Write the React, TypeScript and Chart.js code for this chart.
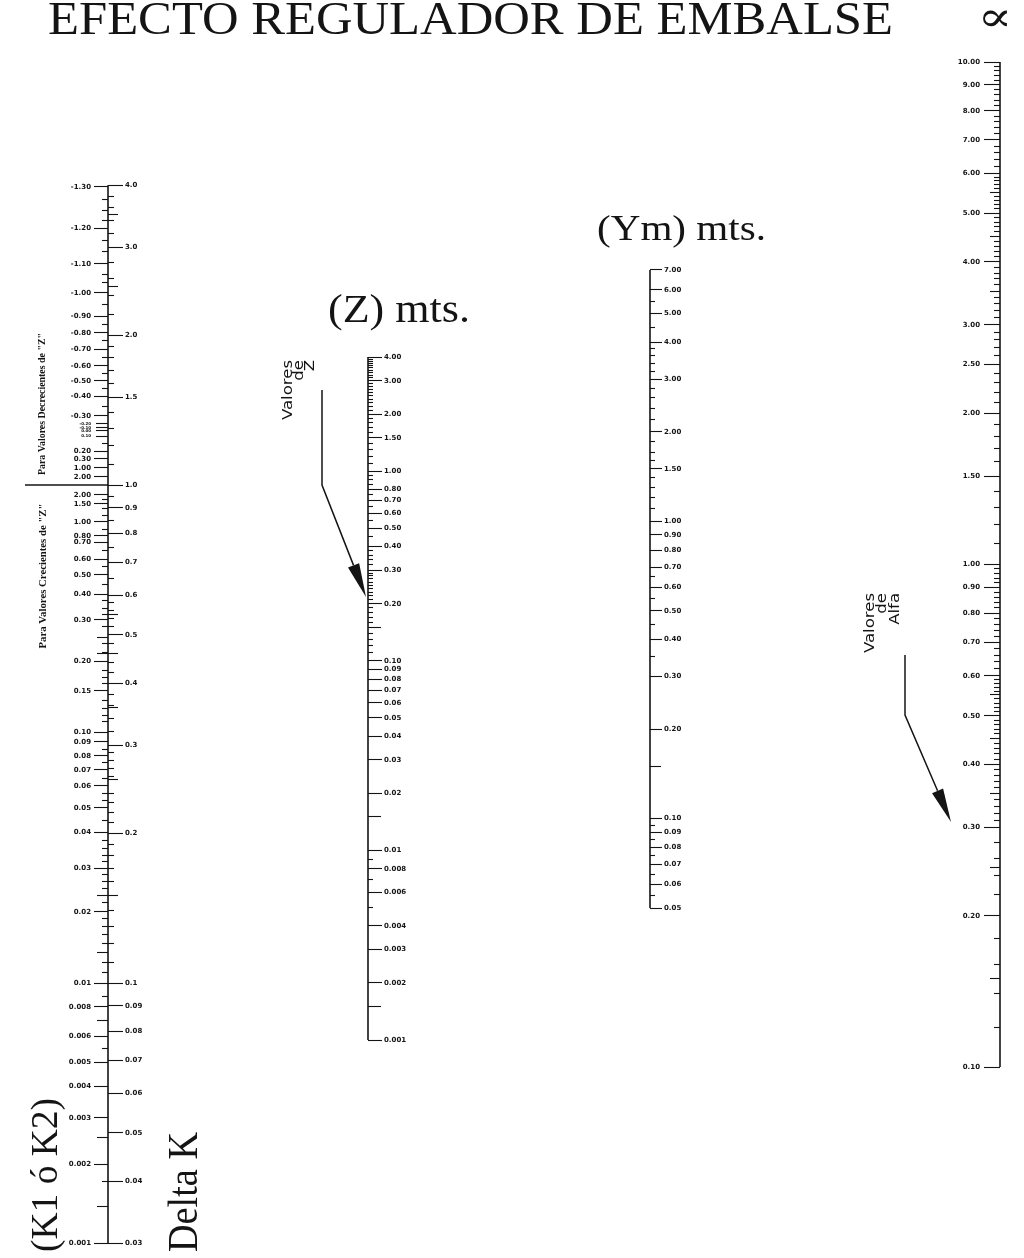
import React, { useEffect, useRef } from 'react';
import { Chart, registerables, LogarithmicScale } from 'chart.js';

// ---------------- data ----------------
// Delta K scale (right side of the left axis)
const deltaKValues = [4, 3, 2, 1.5, 1, 0.9, 0.8, 0.7, 0.6, 0.5, 0.4, 0.3, 0.2, 0.1, 0.09, 0.08, 0.07, 0.06, 0.05, 0.04, 0.03];
const deltaKLabels = ['4.0', '3.0', '2.0', '1.5', '1.0', '0.9', '0.8', '0.7', '0.6', '0.5', '0.4', '0.3', '0.2', '0.1', '0.09', '0.08', '0.07', '0.06', '0.05', '0.04', '0.03'];
const deltaKMinor = [3.8, 3.6, 3.4, 3.2, 2.8, 2.6, 2.4, 2.2, 1.9, 1.8, 1.7, 1.6, 1.4, 1.3, 1.2, 1.1, 0.95, 0.85, 0.75, 0.65, 0.58, 0.56, 0.54, 0.52, 0.48, 0.44, 0.42, 0.38, 0.36, 0.34, 0.32, 0.29, 0.28, 0.27, 0.26, 0.24, 0.23, 0.22, 0.21, 0.19, 0.18, 0.17, 0.16, 0.14, 0.13, 0.12, 0.11];
const deltaKMinorLong = [3.5, 2.5, 0.55, 0.458, 0.357, 0.256, 0.15];

// K1 / K2 scale (left side of the left axis), positions read against Delta K
const k1Labels = ['-1.30', '-1.20', '-1.10', '-1.00', '-0.90', '-0.80', '-0.70', '-0.60', '-0.50', '-0.40', '-0.30', '0.20', '0.30', '1.00', '2.00', '2.00', '1.50', '1.00', '0.80', '0.70', '0.60', '0.50', '0.40', '0.30', '0.20', '0.15', '0.10', '0.09', '0.08', '0.07', '0.06', '0.05', '0.04', '0.03', '0.02', '0.01', '0.008', '0.006', '0.005', '0.004', '0.003', '0.002', '0.001'];
const k1OnDeltaK = [3.97, 3.28, 2.78, 2.43, 2.18, 2.02, 1.875, 1.734, 1.618, 1.509, 1.376, 1.17, 1.128, 1.082, 1.038, 0.955, 0.916, 0.843, 0.79, 0.768, 0.71, 0.66, 0.604, 0.536, 0.443, 0.386, 0.319, 0.305, 0.286, 0.268, 0.249, 0.2246, 0.201, 0.17, 0.139, 0.1, 0.0895, 0.0782, 0.0694, 0.0621, 0.0536, 0.0433, 0.03];
const k1TinyLabels = ['-0.20', '-0.10', '0.00', '0.10'];
const k1TinyOnDeltaK = [1.326, 1.302, 1.284, 1.254];
const k1Minor = [3.75, 3.55, 3.4, 3.1, 2.95, 2.65, 2.55, 2.3, 2.1, 1.95, 1.8, 1.675, 1.56, 1.44, 1.21, 0.935, 0.895, 0.87, 0.815, 0.74, 0.685, 0.63, 0.585, 0.565, 0.55, 0.52, 0.48, 0.46, 0.425, 0.41, 0.4, 0.37, 0.355, 0.345, 0.335, 0.295, 0.277, 0.258, 0.24, 0.232, 0.212, 0.193, 0.186, 0.18, 0.175, 0.165, 0.16, 0.155, 0.145, 0.135, 0.13, 0.125, 0.12, 0.11, 0.105, 0.094, 0.074, 0.04];
const k1MinorLong = [0.495, 0.458, 0.15, 0.115, 0.084, 0.049, 0.0356];

// Z scale
const zValues = [4, 3, 2, 1.5, 1, 0.8, 0.7, 0.6, 0.5, 0.4, 0.3, 0.2, 0.1, 0.09, 0.08, 0.07, 0.06, 0.05, 0.04, 0.03, 0.02, 0.01, 0.008, 0.006, 0.004, 0.003, 0.002, 0.001];
const zLabels = ['4.00', '3.00', '2.00', '1.50', '1.00', '0.80', '0.70', '0.60', '0.50', '0.40', '0.30', '0.20', '0.10', '0.09', '0.08', '0.07', '0.06', '0.05', '0.04', '0.03', '0.02', '0.01', '0.008', '0.006', '0.004', '0.003', '0.002', '0.001'];
const zMinor = [3.9, 3.8, 3.7, 3.6, 3.5, 3.4, 3.3, 3.2, 3.1, 2.9, 2.8, 2.7, 2.6, 2.5, 2.4, 2.3, 2.2, 2.1, 1.9, 1.8, 1.7, 1.6, 1.4, 1.3, 1.2, 1.1, 0.95, 0.9, 0.85, 0.75, 0.65, 0.55, 0.45, 0.38, 0.36, 0.34, 0.32, 0.29, 0.28, 0.27, 0.26, 0.25, 0.24, 0.23, 0.22, 0.21, 0.19, 0.18, 0.17, 0.16, 0.14, 0.13, 0.12, 0.11, 0.009, 0.007, 0.005];
const zMinorLong = [0.15, 0.015, 0.0015];

// Ym scale
const ymValues = [7, 6, 5, 4, 3, 2, 1.5, 1, 0.9, 0.8, 0.7, 0.6, 0.5, 0.4, 0.3, 0.2, 0.1, 0.09, 0.08, 0.07, 0.06, 0.05];
const ymLabels = ['7.00', '6.00', '5.00', '4.00', '3.00', '2.00', '1.50', '1.00', '0.90', '0.80', '0.70', '0.60', '0.50', '0.40', '0.30', '0.20', '0.10', '0.09', '0.08', '0.07', '0.06', '0.05'];
const ymMinor = [5.5, 4.5, 3.8, 3.6, 3.4, 3.2, 2.8, 2.6, 2.4, 2.2, 1.85, 1.7, 1.6, 1.4, 1.3, 1.2, 1.1, 0.65, 0.55, 0.45, 0.35, 0.095, 0.085, 0.075, 0.065, 0.055];
const ymMinorLong = [0.15];

// Alfa scale
const alfaValues = [10, 9, 8, 7, 6, 5, 4, 3, 2.5, 2, 1.5, 1, 0.9, 0.8, 0.7, 0.6, 0.5, 0.4, 0.3, 0.2, 0.1];
const alfaLabels = ['10.00', '9.00', '8.00', '7.00', '6.00', '5.00', '4.00', '3.00', '2.50', '2.00', '1.50', '1.00', '0.90', '0.80', '0.70', '0.60', '0.50', '0.40', '0.30', '0.20', '0.10'];
const alfaMinor = [9.8, 9.6, 9.4, 9.2, 8.8, 8.6, 8.4, 8.2, 7.8, 7.6, 7.4, 7.2, 6.8, 6.6, 6.4, 6.2, 5.9, 5.8, 5.7, 5.6, 5.4, 5.3, 5.2, 5.1, 4.9, 4.8, 4.7, 4.6, 4.4, 4.3, 4.2, 4.1, 3.9, 3.8, 3.7, 3.6, 3.4, 3.3, 3.2, 3.1, 2.9, 2.8, 2.7, 2.6, 2.4, 2.3, 2.2, 2.1, 1.9, 1.8, 1.7, 1.6, 1.4, 1.3, 1.2, 1.1, 0.98, 0.96, 0.94, 0.92, 0.88, 0.86, 0.84, 0.82, 0.78, 0.76, 0.74, 0.72, 0.68, 0.66, 0.64, 0.62, 0.59, 0.58, 0.57, 0.56, 0.54, 0.53, 0.52, 0.51, 0.49, 0.48, 0.47, 0.46, 0.44, 0.43, 0.42, 0.41, 0.39, 0.38, 0.37, 0.36, 0.34, 0.33, 0.32, 0.31, 0.28, 0.26, 0.24, 0.22, 0.18, 0.16, 0.14, 0.12];
const alfaMinorLong = [5.5, 4.5, 3.5, 0.55, 0.45, 0.35, 0.25, 0.15];

// Texts
const TITLE = 'EFECTO REGULADOR DE EMBALSE';
const ALPHA_SYMBOL = '\u221D';
const Z_TITLE = '(Z) mts.';
const YM_TITLE = '(Ym) mts.';
const K_TITLE = '(K1 ó K2)';
const DK_TITLE = 'Delta K';
const DECR_NOTE = 'Para Valores Decrecientes de "Z"';
const CREC_NOTE = 'Para Valores Crecientes de "Z"';
const Z_HINT = ['Valores', 'de', 'Z'];
const ALFA_HINT = ['Valores', 'de', 'Alfa'];

// ---------------- layout ----------------
const W = 1024;
const H = 1258;
const PAD_TOP = 20;
const PAD_BOTTOM = 8;
const AREA_TOP = PAD_TOP;
const AREA_BOTTOM = H - PAD_BOTTOM;
const INK = '#141414';
const AXIS_X = { k: 108, z: 368, ym: 650, alfa: 1000 };
const DIVIDER_X0 = 25;
// two reference points (value, pixel y) for each log axis
const ANCHOR: Record<string, [[number, number], [number, number]]> = {
  k: [[1, 485], [0.1, 983]],
  z: [[4, 357], [0.001, 1040]],
  ym: [[7, 270], [0.05, 908]],
  alfa: [[10, 62], [0.1, 1067]],
};

function logRange(key: string) {
  const [[v1, y1], [v2, y2]] = ANCHOR[key];
  const d = (Math.log10(v1) - Math.log10(v2)) / (y2 - y1);
  return {
    max: Math.pow(10, Math.log10(v1) + (y1 - AREA_TOP) * d),
    min: Math.pow(10, Math.log10(v2) - (AREA_BOTTOM - y2) * d),
  };
}

type Tk = { value: number; lbl: string; len: number; fs: number };
const majorTicks = (vals: number[], labels: string[], len: number, fs = 7): Tk[] =>
  vals.map((v, i) => ({ value: v, lbl: labels[i], len, fs }));
const minorTicks = (vals: number[], len: number): Tk[] => vals.map((v) => ({ value: v, lbl: '', len, fs: 7 }));
const sorted = (arr: Tk[]) => arr.slice().sort((a, b) => a.value - b.value);

const TICKS: Record<string, Tk[]> = {
  k1: sorted([
    ...majorTicks(k1OnDeltaK, k1Labels, 14),
    ...majorTicks(k1TinyOnDeltaK, k1TinyLabels, 12, 4),
    ...minorTicks(k1Minor, 6),
    ...minorTicks(k1MinorLong, 11),
  ]),
  dk: sorted([
    ...majorTicks(deltaKValues, deltaKLabels, 15),
    ...minorTicks(deltaKMinor, 6),
    ...minorTicks(deltaKMinorLong, 10),
  ]),
  z: sorted([...majorTicks(zValues, zLabels, 14), ...minorTicks(zMinor, 5), ...minorTicks(zMinorLong, 13)]),
  ym: sorted([...majorTicks(ymValues, ymLabels, 12), ...minorTicks(ymMinor, 5), ...minorTicks(ymMinorLong, 11)]),
  alfa: sorted([...majorTicks(alfaValues, alfaLabels, 16), ...minorTicks(alfaMinor, 6), ...minorTicks(alfaMinorLong, 10)]),
};

const SIDES: Record<string, { x: number; dir: number; gap: number }> = {
  k1: { x: AXIS_X.k, dir: -1, gap: 3 },
  dk: { x: AXIS_X.k, dir: 1, gap: 2 },
  z: { x: AXIS_X.z, dir: 1, gap: 2 },
  ym: { x: AXIS_X.ym, dir: 1, gap: 2 },
  alfa: { x: AXIS_X.alfa, dir: -1, gap: 4 },
};

// Log scale whose ticks/labels can sit on either side of a free-standing axis
class NomoScale extends LogarithmicScale {
  static id = 'nomolog';
  static defaults = (LogarithmicScale as any).defaults;
  _side() {
    const s = SIDES[(this as any).id];
    const bx = (this as any).chart.scales.x.getPixelForValue(s.x);
    return { bx, dir: s.dir, gap: s.gap };
  }
  _computeGridLineItems(area: any) {
    const items = (super._computeGridLineItems as any)(area);
    const { bx, dir } = this._side();
    const ticks = (this as any).ticks;
    items.forEach((it: any, i: number) => {
      const t = ticks[i];
      const len = t && t.len ? t.len : 6;
      it.tx1 = bx;
      it.tx2 = bx + dir * len;
    });
    return items;
  }
  _computeLabelItems(area: any) {
    const items = (super._computeLabelItems as any)(area);
    const { bx, dir, gap } = this._side();
    const ticks = (this as any).ticks as Tk[];
    let maxLen = 0;
    ticks.forEach((t) => {
      if (t.lbl && t.len > maxLen) maxLen = t.len;
    });
    items.forEach((it: any) => {
      if (it.options && Array.isArray(it.options.translation)) {
        it.options.translation[0] = bx + dir * (maxLen + gap);
      }
      if (it.options) it.options.textAlign = dir > 0 ? 'left' : 'right';
    });
    return items;
  }
}

Chart.register(...registerables, NomoScale);

function nomoAxis(id: string, key: string) {
  const r = logRange(key);
  return {
    type: 'nomolog',
    axis: 'y',
    position: { x: SIDES[id].x },
    min: r.min,
    max: r.max,
    bounds: 'data',
    border: { display: false },
    grid: {
      display: true,
      drawOnChartArea: false,
      drawTicks: true,
      tickLength: 14,
      tickColor: INK,
      tickWidth: 1.1,
    },
    ticks: {
      autoSkip: false,
      color: INK,
      maxRotation: 0,
      minRotation: 0,
      font: (ctx: any) => ({ family: 'DejaVu Sans', size: ctx.tick && ctx.tick.fs ? ctx.tick.fs : 7, weight: 'bold' }),
      callback: (_v: number, i: number, ts: any[]) => (ts[i] && ts[i].lbl) || '',
    },
    afterBuildTicks: (scale: any) => {
      scale.ticks = TICKS[id].map((t) => ({ ...t }));
    },
  };
}

function spine(key: keyof typeof AXIS_X, yAxisID: string, vals: number[]) {
  return {
    data: [
      { x: AXIS_X[key], y: Math.max(...vals) },
      { x: AXIS_X[key], y: Math.min(...vals) },
    ],
    yAxisID,
    xAxisID: 'x',
    showLine: true,
    borderColor: INK,
    borderWidth: 1.6,
    pointRadius: 0,
    clip: false,
  };
}

// ---------------- annotations ----------------
type TextItem = {
  text: string;
  x: number;
  y: number;
  font: string;
  align?: CanvasTextAlign;
  rot?: boolean;
  width?: number;
  sx?: number;
};
const SERIF = '"Liberation Serif", "Times New Roman", serif';
const TEXTS: TextItem[] = [
  { text: TITLE, x: 48, y: 34, font: `46px ${SERIF}`, width: 845 },
  { text: ALPHA_SYMBOL, x: 995, y: 31, font: '42px "DejaVu Serif"', align: 'center', width: 35 },
  { text: Z_TITLE, x: 328, y: 322, font: `40px ${SERIF}`, width: 142 },
  { text: YM_TITLE, x: 597, y: 240, font: `36px ${SERIF}`, width: 169 },
  { text: K_TITLE, x: 57, y: 1252, font: `38px ${SERIF}`, rot: true, width: 154 },
  { text: DK_TITLE, x: 197, y: 1252, font: `42px ${SERIF}`, rot: true, width: 120 },
  { text: DECR_NOTE, x: 45, y: 404, font: `bold 11px ${SERIF}`, rot: true, align: 'center', width: 142 },
  { text: CREC_NOTE, x: 46, y: 576, font: `bold 11px ${SERIF}`, rot: true, align: 'center', width: 145 },
  { text: Z_HINT[0], x: 292, y: 360, font: '14px "DejaVu Sans"', rot: true, align: 'right', sx: 1.18 },
  { text: Z_HINT[1], x: 303, y: 360, font: '14px "DejaVu Sans"', rot: true, align: 'right', sx: 1.18 },
  { text: Z_HINT[2], x: 314, y: 360, font: '14px "DejaVu Sans"', rot: true, align: 'right', sx: 1.18 },
  { text: ALFA_HINT[0], x: 874, y: 593, font: '14px "DejaVu Sans"', rot: true, align: 'right', sx: 1.18 },
  { text: ALFA_HINT[1], x: 886, y: 593, font: '14px "DejaVu Sans"', rot: true, align: 'right', sx: 1.18 },
  { text: ALFA_HINT[2], x: 899, y: 593, font: '14px "DejaVu Sans"', rot: true, align: 'right', sx: 1.18 },
];
const ARROWS: { pts: [number, number][]; head: number; hw: number }[] = [
  { pts: [[322, 390], [322, 485], [366, 597]], head: 34, hw: 6 },
  { pts: [[905, 655], [905, 715], [951, 822]], head: 34, hw: 6 },
];

function drawText(ctx: CanvasRenderingContext2D, t: TextItem) {
  ctx.save();
  ctx.translate(t.x, t.y);
  if (t.rot) ctx.rotate(-Math.PI / 2);
  ctx.font = t.font;
  ctx.textAlign = t.align || 'left';
  ctx.textBaseline = 'alphabetic';
  let sx = t.sx || 1;
  if (t.width) {
    const m = ctx.measureText(t.text).width;
    if (m > 0) sx = t.width / m;
  }
  ctx.scale(sx, 1);
  ctx.fillText(t.text, 0, 0);
  ctx.restore();
}

function drawArrow(ctx: CanvasRenderingContext2D, a: { pts: [number, number][]; head: number; hw: number }) {
  const pts = a.pts;
  const [tx, ty] = pts[pts.length - 1];
  const [px, py] = pts[pts.length - 2];
  const dx = tx - px;
  const dy = ty - py;
  const L = Math.hypot(dx, dy);
  const ux = dx / L;
  const uy = dy / L;
  const bx = tx - ux * a.head;
  const by = ty - uy * a.head;
  ctx.beginPath();
  ctx.moveTo(pts[0][0], pts[0][1]);
  for (let i = 1; i < pts.length - 1; i++) ctx.lineTo(pts[i][0], pts[i][1]);
  ctx.lineTo(bx, by);
  ctx.lineWidth = 1.5;
  ctx.strokeStyle = INK;
  ctx.stroke();
  ctx.beginPath();
  ctx.moveTo(tx, ty);
  ctx.lineTo(bx - uy * a.hw, by + ux * a.hw);
  ctx.lineTo(bx + uy * a.hw, by - ux * a.hw);
  ctx.closePath();
  ctx.fillStyle = INK;
  ctx.fill();
}

const annotationPlugin = {
  id: 'nomoAnnotations',
  afterDraw(chart: any) {
    const ctx: CanvasRenderingContext2D = chart.ctx;
    ctx.save();
    ctx.fillStyle = INK;
    TEXTS.forEach((t) => drawText(ctx, t));
    ARROWS.forEach((a) => drawArrow(ctx, a));
    ctx.restore();
  },
};

export default function App() {
  const canvasRef = useRef<HTMLCanvasElement | null>(null);

  useEffect(() => {
    const canvas = canvasRef.current;
    if (!canvas) return;
    const chart = new Chart(canvas, {
      type: 'scatter',
      data: {
        datasets: [
          spine('k', 'dk', deltaKValues),
          spine('z', 'z', zValues),
          spine('ym', 'ym', ymValues),
          spine('alfa', 'alfa', alfaValues),
          {
            data: [
              { x: DIVIDER_X0, y: deltaKValues[4] },
              { x: AXIS_X.k, y: deltaKValues[4] },
            ],
            yAxisID: 'dk',
            xAxisID: 'x',
            showLine: true,
            borderColor: INK,
            borderWidth: 1.3,
            pointRadius: 0,
            clip: false,
          },
        ] as any,
      },
      options: {
        responsive: false,
        maintainAspectRatio: false,
        animation: false,
        events: [],
        devicePixelRatio: 1,
        layout: { padding: { top: PAD_TOP, bottom: PAD_BOTTOM, left: 0, right: 0 } },
        plugins: { legend: { display: false }, tooltip: { enabled: false }, title: { display: false } },
        scales: {
          x: { type: 'linear', min: 0, max: W, display: false },
          k1: nomoAxis('k1', 'k'),
          dk: nomoAxis('dk', 'k'),
          z: nomoAxis('z', 'z'),
          ym: nomoAxis('ym', 'ym'),
          alfa: nomoAxis('alfa', 'alfa'),
        } as any,
      },
      plugins: [annotationPlugin],
    });
    return () => chart.destroy();
  }, []);

  return (
    <div style={{ position: 'absolute', left: 0, top: 0, width: W, height: H, background: '#fff' }}>
      <canvas ref={canvasRef} width={W} height={H} style={{ display: 'block' }} />
    </div>
  );
}
